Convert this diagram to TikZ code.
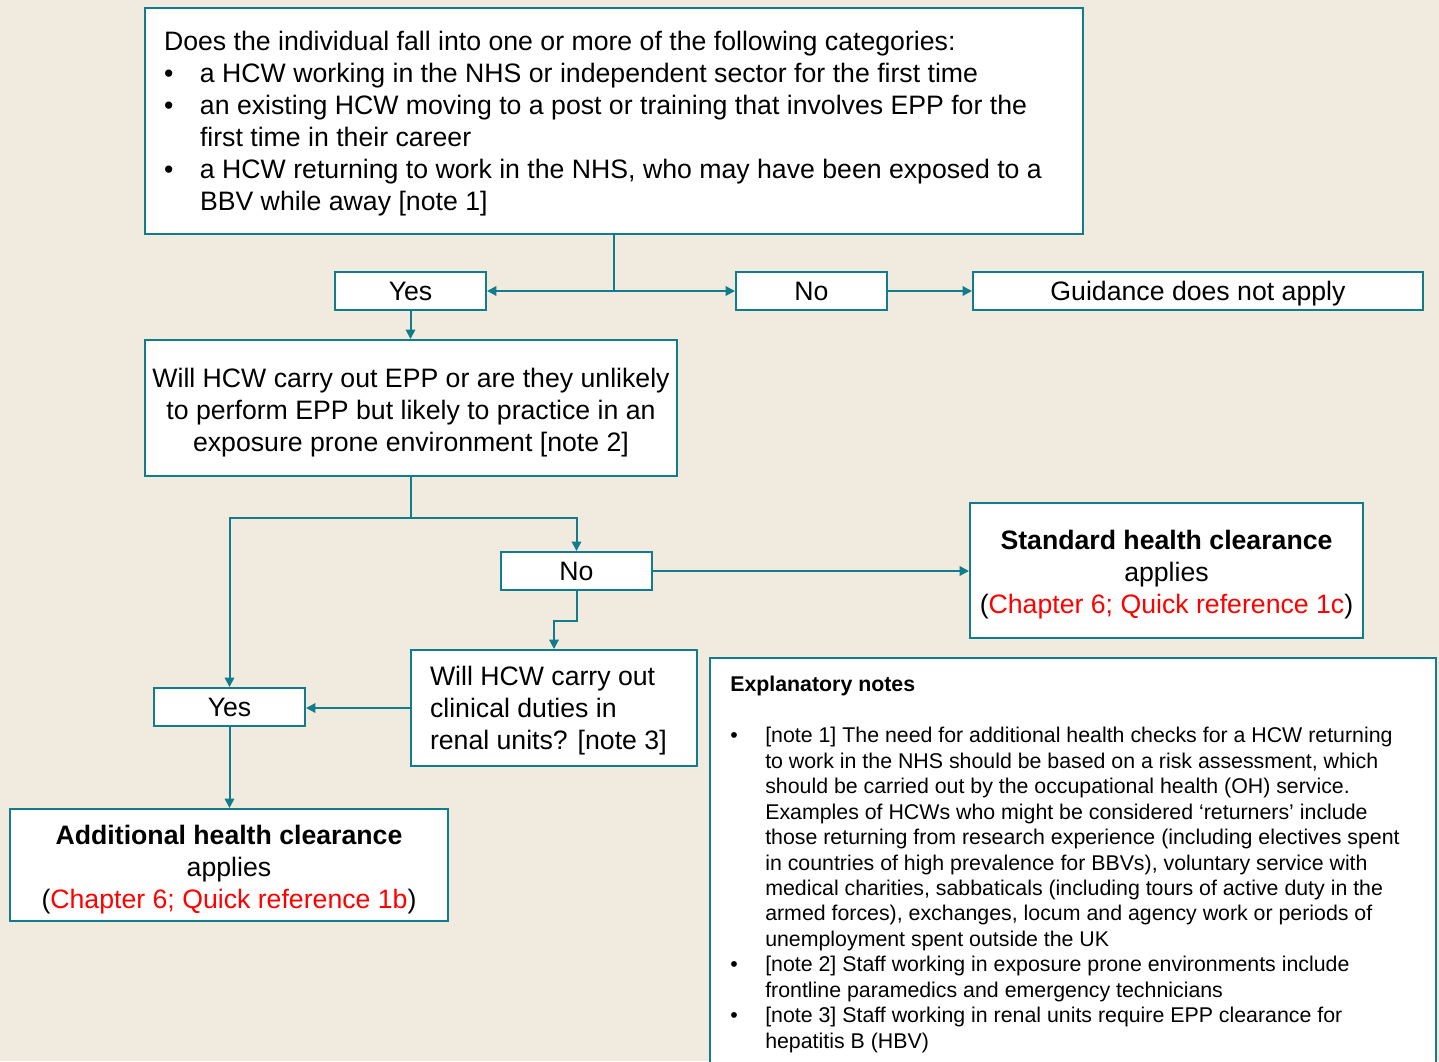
\documentclass[tikz,border=0pt]{standalone}
\usepackage{fontspec}
\setmainfont{Liberation Sans}
\usetikzlibrary{arrows.meta}

\definecolor{paper}{RGB}{240,235,222}
\definecolor{flowteal}{RGB}{16,124,140}
\definecolor{refred}{RGB}{255,0,0}

\tikzstyle{box} = [rectangle, draw=flowteal, line width=1.5pt, fill=white, inner sep=0pt, font=\fontsize{20}{24}\selectfont,
  execute at begin node={\rule{0pt}{0.905em}}, execute at end node={\rule[-0.212em]{0pt}{0pt}}]
\tikzstyle{answer} = [box, minimum width=113.25pt, minimum height=28.5pt]
\tikzstyle{question} = [box, align=center]
\tikzstyle{outcome} = [box, align=center]
\tikzstyle{line} = [draw=flowteal, line width=1.5pt]
\tikzstyle{arrow} = [line, -{Triangle[length=7pt,width=7pt]}]

\newcommand{\bul}{\makebox[27pt][l]{\textbullet}}
\newcommand{\nbul}{\makebox[26.25pt][l]{\textbullet}}
\newcommand{\tstrut}{\rule{0pt}{1.05em}}

\begin{document}
\begin{tikzpicture}[x=0.75pt, y=-0.75pt]

  \fill[paper] (0,0) rectangle (1439,1061);
  \useasboundingbox (0,0) rectangle (1439,1061);

  \node (top) [box, align=flush left, minimum width=703.5pt, minimum height=169.5pt, text width=675pt] at (614,121)
    {Does the individual fall into one or more of the following categories:\\
     \bul a HCW working in the NHS or independent sector for the first time\\
     \bul an existing HCW moving to a post or training that involves EPP for the\\
     \hspace*{27pt}first time in their career\\
     \bul a HCW returning to work in the NHS, who may have been exposed to a\\
     \hspace*{27pt}BBV while away [note 1]};

  \node (yesA) [answer] at (410.5,291) {Yes};
  \node (noA) [answer] at (811.5,291) {No};
  \node (guide) [box, minimum width=337.5pt, minimum height=28.5pt] at (1198,291) {Guidance does not apply};

  \node (q2) [question, minimum width=399pt, minimum height=102pt] at (411,408)
    {\tstrut Will HCW carry out EPP or are they unlikely\\
     to perform EPP but likely to practice in an\\
     exposure prone environment [note 2]};

  \node (noB) [answer] at (576.5,571) {No};
  \node (std) [outcome, minimum width=294.75pt, minimum height=101.25pt] at (1166.5,570.5)
    {\tstrut\textbf{Standard health clearance}\\
     applies\\
     (\textcolor{refred}{Chapter 6; Quick reference 1c})};

  \node (q3) [box, align=flush left, minimum width=214.5pt, minimum height=87pt, text width=186pt] at (554,708)
    {Will HCW carry out\\
     clinical duties in\\
     renal units? [note 3]};

  \node (yesB) [answer] at (229.5,707) {Yes};
  \node (addl) [outcome, minimum width=328.5pt, minimum height=84pt] at (229,865)
    {\tstrut\textbf{Additional health clearance}\\
     applies\\
     (\textcolor{refred}{Chapter 6; Quick reference 1b})};

  % --- notes --- %

  \draw[line, fill=white] (710,658) rectangle (1436,1090);
  \node (notes) [anchor=north west, inner sep=0pt, align=left, font=\fontsize{16}{19.1}\selectfont] at (730,676)
    {\textbf{Explanatory notes}\\[19.1pt]
     \nbul[note 1] The need for additional health checks for a HCW returning\\
     \hspace*{26.25pt}to work in the NHS should be based on a risk assessment, which\\
     \hspace*{26.25pt}should be carried out by the occupational health (OH) service.\\
     \hspace*{26.25pt}Examples of HCWs who might be considered ‘returners’ include\\
     \hspace*{26.25pt}those returning from research experience (including electives spent\\
     \hspace*{26.25pt}in countries of high prevalence for BBVs), voluntary service with\\
     \hspace*{26.25pt}medical charities, sabbaticals (including tours of active duty in the\\
     \hspace*{26.25pt}armed forces), exchanges, locum and agency work or periods of\\
     \hspace*{26.25pt}unemployment spent outside the UK\\
     \nbul[note 2] Staff working in exposure prone environments include\\
     \hspace*{26.25pt}frontline paramedics and emergency technicians\\
     \nbul[note 3] Staff working in renal units require EPP clearance for\\
     \hspace*{26.25pt}hepatitis B (HBV)};

  % --- connectors --- %

  \coordinate (split1) at (614,291);
  \coordinate (split2) at (411,518);

  \draw [line] (top.south) -- (split1);
  \draw [arrow] (split1) -- (yesA);
  \draw [arrow] (split1) -- (noA);
  \draw [arrow] (noA) -- (guide);
  \draw [arrow] (yesA.south) -- (yesA.south |- q2.north);

  \draw [line] (q2.south) -- (split2);
  \draw [arrow] (split2) -| (yesB);
  \draw [arrow] (split2) -| (noB);
  \draw [arrow] (noB.east) -- (noB.east -| std.west);
  \draw [arrow] (noB.south) -- ++(0,30) -| (q3.north);
  \draw [arrow] (q3.west) -- (q3.west -| yesB.east);
  \draw [arrow] (yesB.south) -- (yesB.south |- addl.north);

\end{tikzpicture}
\end{document}
